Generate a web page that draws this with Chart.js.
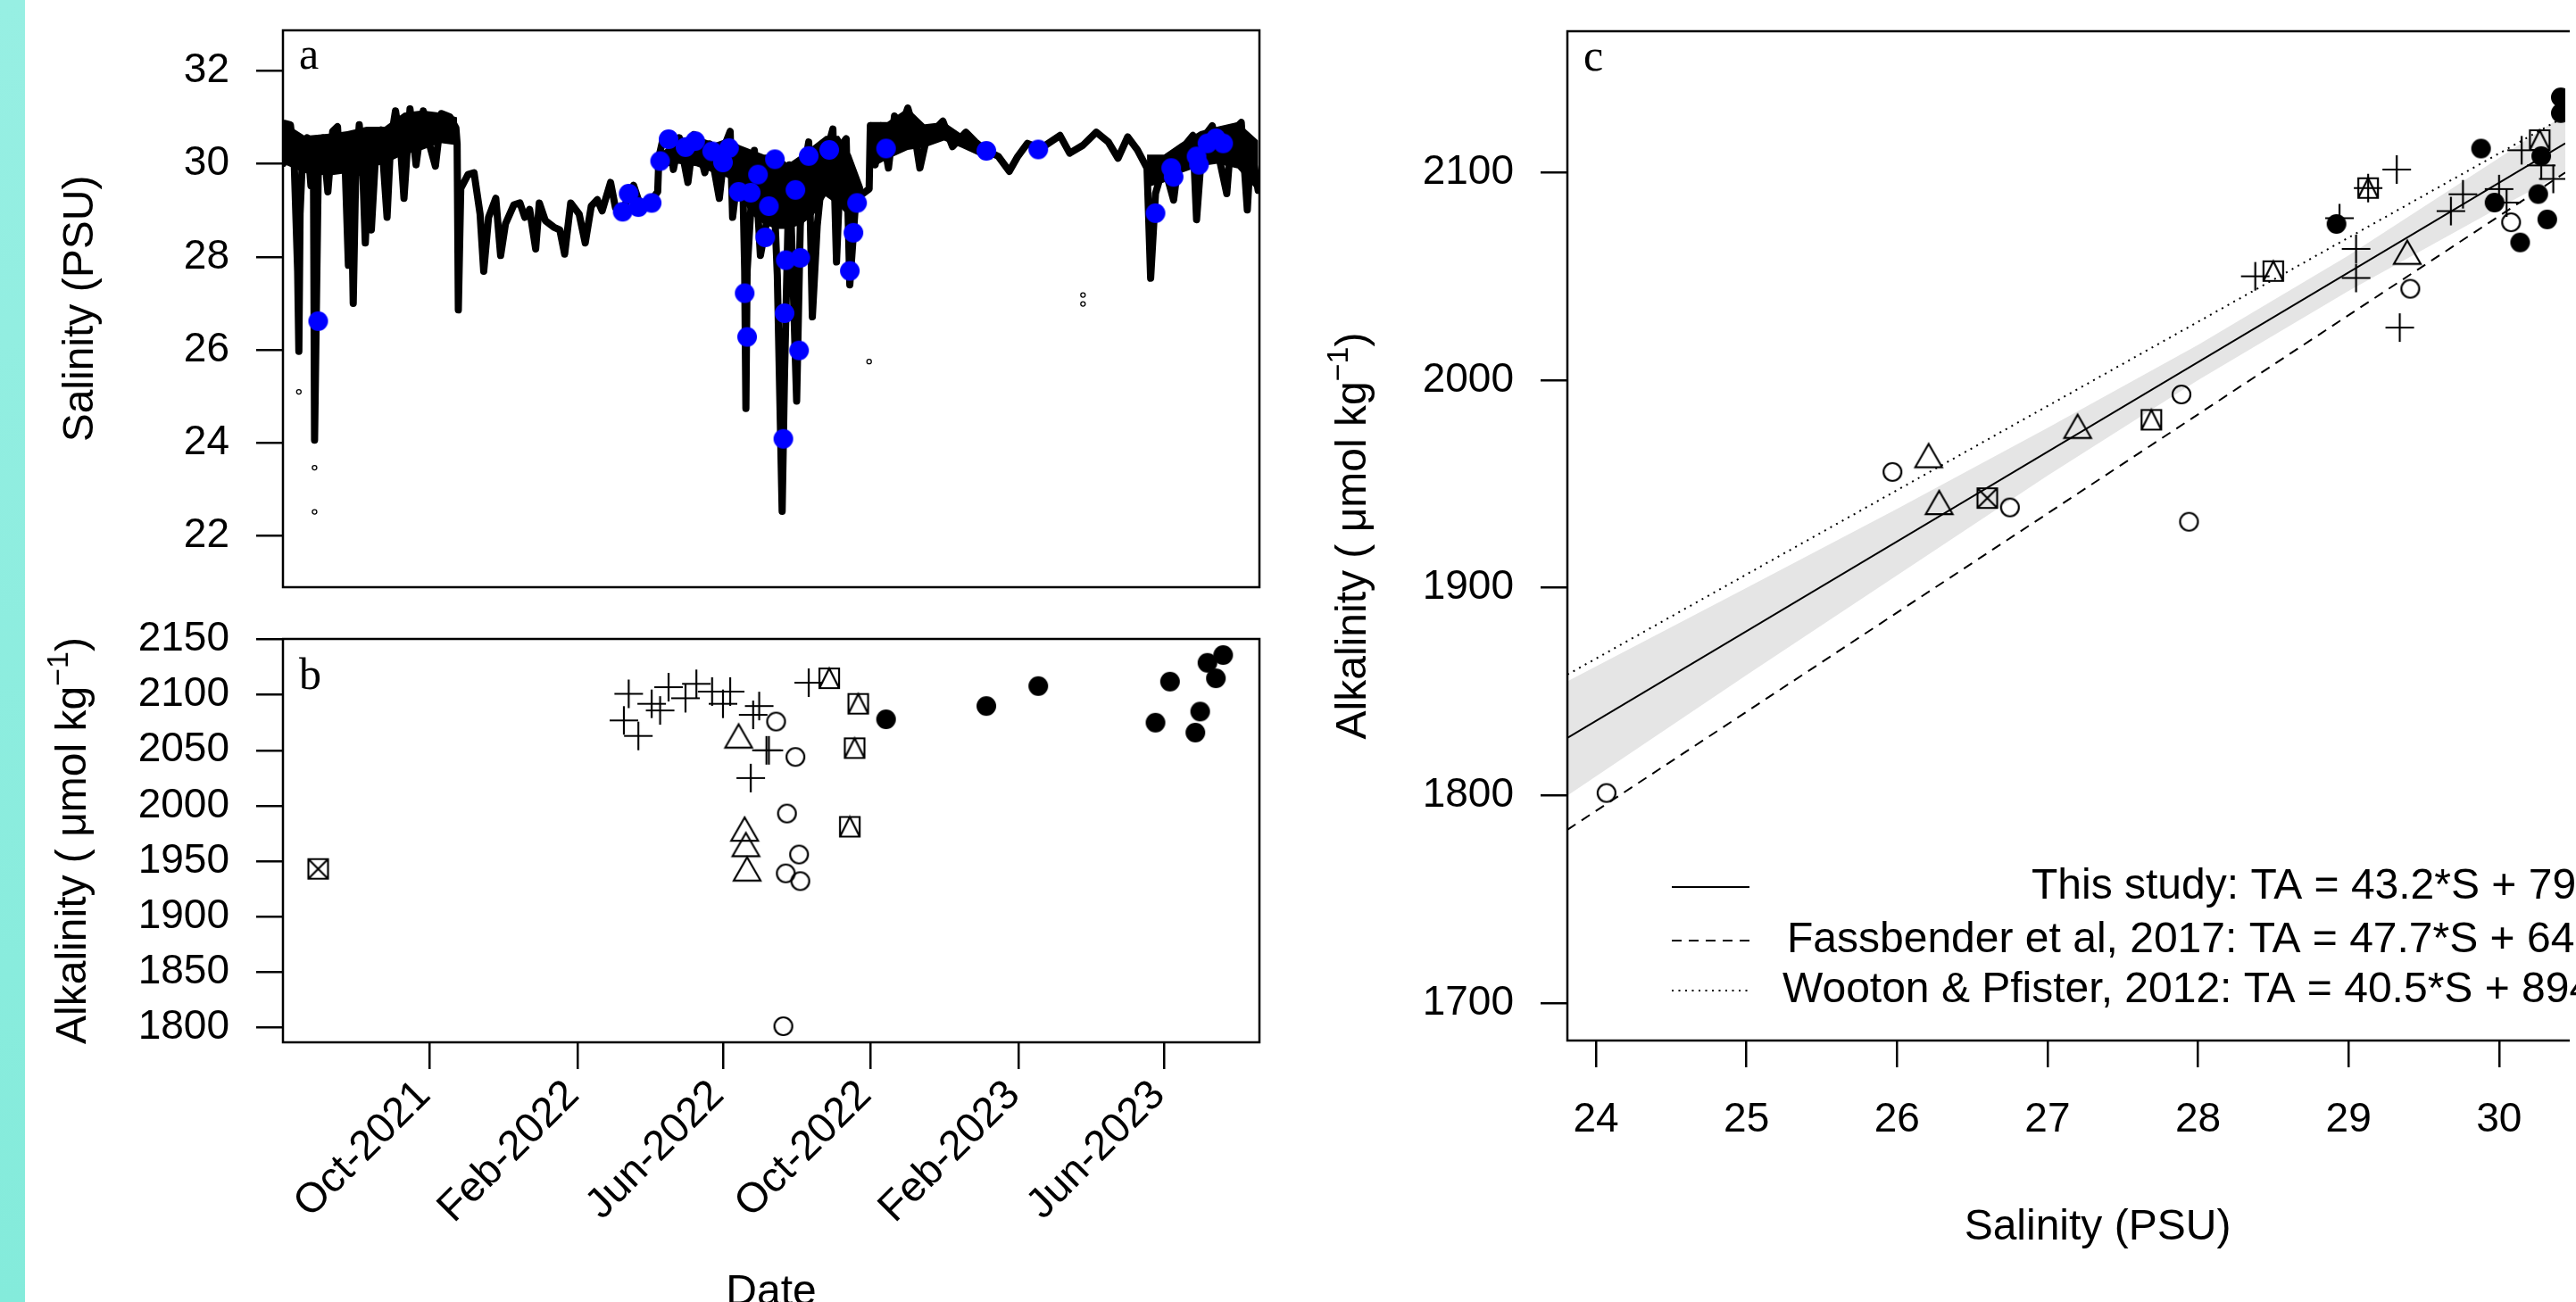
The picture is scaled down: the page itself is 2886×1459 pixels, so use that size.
<!DOCTYPE html>
<html>
<head>
<meta charset="utf-8">
<script src="https://cdn.jsdelivr.net/npm/chart.js@4.4.0/dist/chart.umd.min.js"></script>
<style>
  html, body { margin: 0; padding: 0; background: #fff; overflow: hidden; }
  body { width: 2886px; height: 1459px; position: relative; }
  #strip { position: absolute; left: 0; top: 0; width: 28px; height: 1459px; background: linear-gradient(#97efe3, #84ebdb); }
  canvas { position: absolute; }
</style>
</head>
<body>
<div id="strip"></div>
<canvas id="chartA" width="1400" height="690" style="left:28px;top:0px"></canvas>
<canvas id="chartB" width="1400" height="769" style="left:28px;top:690px"></canvas>
<canvas id="chartC" width="1446" height="1459" style="left:1440px;top:0px"></canvas>
<script>
// ---------- panel a : continuous sensor salinity ----------
const sensorDates = [
  '2021-06-02','2021-06-03','2021-06-08','2021-06-11','2021-06-14','2021-06-15','2021-06-16','2021-06-18',
  '2021-06-22','2021-06-25','2021-06-27','2021-06-28','2021-07-01','2021-07-05','2021-07-09','2021-07-13',
  '2021-07-17','2021-07-19','2021-07-23','2021-07-26','2021-07-28','2021-07-30','2021-08-01','2021-08-04',
  '2021-08-07','2021-08-09','2021-08-12','2021-08-14','2021-08-18','2021-08-22','2021-08-27','2021-08-30',
  '2021-09-03','2021-09-07','2021-09-10','2021-09-15','2021-09-20','2021-09-26','2021-10-01','2021-10-06',
  '2021-10-11','2021-10-18','2021-10-23','2021-10-24','2021-10-25',
  '2021-10-27','2021-11-02','2021-11-07','2021-11-12','2021-11-15','2021-11-19','2021-11-25','2021-11-29',
  '2021-12-03','2021-12-10','2021-12-15','2021-12-19','2021-12-23','2021-12-28','2021-12-31','2022-01-05',
  '2022-01-12','2022-01-17','2022-01-21','2022-01-26','2022-02-02','2022-02-07','2022-02-12','2022-02-17',
  '2022-02-21','2022-02-28','2022-03-04','2022-03-11','2022-03-19','2022-03-26','2022-04-02','2022-04-08',
  '2022-04-09','2022-04-12','2022-04-17','2022-04-21','2022-04-26','2022-05-03','2022-05-08','2022-05-13',
  '2022-05-17','2022-05-21','2022-05-29','2022-06-03','2022-06-07','2022-06-09','2022-06-13','2022-06-17',
  '2022-06-19','2022-06-20','2022-06-21','2022-06-27','2022-07-02','2022-07-08','2022-07-12','2022-07-16',
  '2022-07-20','2022-07-22','2022-07-26','2022-07-29','2022-08-01','2022-08-04','2022-08-07','2022-08-11',
  '2022-08-14','2022-08-18','2022-08-23','2022-08-31','2022-09-03','2022-09-07','2022-09-11','2022-09-14',
  '2022-09-19','2022-09-30',
  '2022-10-01','2022-10-05','2022-10-10','2022-10-16','2022-10-21','2022-10-26','2022-11-01','2022-11-06',
  '2022-11-11','2022-11-17','2022-11-24','2022-11-30','2022-12-08','2022-12-19','2022-12-27','2023-01-04',
  '2023-01-15','2023-01-24','2023-01-31','2023-02-08','2023-02-19','2023-02-27','2023-03-07','2023-03-15',
  '2023-03-26','2023-04-06','2023-04-16','2023-04-24','2023-05-02','2023-05-10','2023-05-18','2023-05-21',
  '2023-05-25','2023-06-01','2023-06-09','2023-06-14','2023-06-25','2023-06-28','2023-07-03','2023-07-11',
  '2023-07-23','2023-07-27','2023-08-04','2023-08-09','2023-08-12','2023-08-18'
];
const sensorSalinity = [
  30.01,30.87,30.84,30.15,27.69,25.97,28.92,30.15,
  30.56,29.53,30.43,24.06,29.74,30.56,29.40,30.70,
  30.80,29.88,30.22,27.82,30.08,27.00,29.74,30.84,
  29.74,28.30,30.15,28.58,30.43,30.73,28.85,30.49,
  31.14,30.43,29.26,31.18,29.98,31.14,30.43,29.95,
  31.08,31.01,30.77,30.43,26.86,
  29.47,29.77,29.81,28.92,27.69,28.85,29.26,28.03,
  28.71,29.12,29.16,28.85,29.02,28.17,29.16,28.78,
  28.64,28.58,28.06,29.16,28.92,28.30,29.09,29.23,
  28.99,29.60,29.06,29.06,29.54,28.99,29.19,29.40,
  30.15,30.49,30.63,29.88,30.56,29.60,30.63,30.22,
  29.81,30.43,29.26,30.43,30.70,28.85,29.74,30.15,
  27.69,24.74,27.69,30.29,28.03,28.87,30.12,27.61,
  22.53,25.52,29.98,27.47,24.90,28.66,29.84,30.47,
  26.71,28.66,29.98,30.75,27.89,30.40,30.54,27.40,
  29.25,29.46,
  30.82,29.98,30.82,29.91,31.03,30.75,31.20,30.75,
  29.91,30.61,30.75,30.92,30.37,30.68,30.47,30.30,
  30.16,29.84,30.16,30.44,30.33,30.47,30.61,30.23,
  30.40,30.68,30.47,30.12,30.58,30.30,29.91,27.54,
  29.36,29.98,29.22,30.26,30.61,28.80,30.54,30.82,
  29.36,30.68,30.89,29.01,30.40,29.43
];
// dense tidal band of the record: upper and lower edge
const denseDates1 = ['2021-06-02','2021-06-20','2021-07-10','2021-07-25','2021-08-10','2021-08-25','2021-09-10','2021-09-25','2021-10-10','2021-10-24'];
const denseHigh1 = [30.9, 30.6, 30.65, 30.7, 30.8, 30.8, 31.1, 31.15, 31.1, 31.0];
const denseLow1 = [30.0, 29.8, 29.75, 29.8, 29.9, 30.0, 30.2, 30.3, 30.45, 30.4];
const denseDates2 = ['2022-04-09','2022-04-25','2022-05-10','2022-05-25','2022-06-05','2022-06-15','2022-06-25','2022-07-05',
  '2022-07-15','2022-07-25','2022-08-05','2022-08-15','2022-08-25','2022-09-05','2022-09-15','2022-09-25'];
const denseHigh2 = [30.2, 30.55, 30.6, 30.45, 30.55, 30.4, 30.3, 30.2, 30.2, 30.0, 30.2, 30.4, 30.6, 30.6, 30.2, 29.5];
const denseLow2 = [29.9, 30.0, 29.95, 29.8, 29.7, 29.3, 28.9, 28.7, 28.6, 28.6, 28.7, 28.9, 29.3, 29.1, 28.8, 29.1];
const denseDates3 = ['2022-10-01','2022-10-15','2022-11-01','2022-11-15','2022-12-01','2022-12-15','2023-01-01','2023-01-10'];
const denseHigh3 = [30.9, 30.9, 31.2, 30.85, 30.9, 30.65, 30.45, 30.3];
const denseLow3 = [29.9, 30.1, 30.3, 30.35, 30.5, 30.35, 30.15, 30.1];
const denseDates4 = ['2023-05-18','2023-06-01','2023-06-15','2023-07-01','2023-07-15','2023-08-01','2023-08-18'];
const denseHigh4 = [30.2, 30.2, 30.45, 30.7, 30.8, 30.9, 30.5];
const denseLow4 = [29.5, 29.6, 29.8, 29.95, 30.0, 29.9, 29.4];

const outlierDates = ['2021-06-15','2021-06-28','2021-06-28','2022-09-30','2023-03-26','2023-03-26'];
const outlierSalinity = [25.10, 23.47, 22.52, 25.75, 27.18, 26.99];

// discrete sampling days, salinity at sampling (blue)
const sampleDatesA = [
  '2021-07-01','2022-03-10','2022-03-15','2022-03-23','2022-04-03','2022-04-10','2022-04-17','2022-05-01',
  '2022-05-09','2022-05-23','2022-06-01','2022-06-06','2022-06-14','2022-06-19','2022-06-21','2022-06-24',
  '2022-06-30','2022-07-06','2022-07-09','2022-07-14','2022-07-21','2022-07-22','2022-07-23','2022-07-31',
  '2022-08-03','2022-08-04','2022-08-11','2022-08-28','2022-09-14','2022-09-17','2022-09-20','2022-10-14',
  '2023-01-05','2023-02-17','2023-05-25','2023-06-07','2023-06-09','2023-06-28','2023-06-30','2023-07-07',
  '2023-07-14','2023-07-20'
];
const sampleSalinityA = [
  26.62,28.97,29.36,29.07,29.16,30.06,30.53,30.36,
  30.49,30.27,30.03,30.34,29.40,27.22,26.28,29.38,
  29.77,28.42,29.09,30.10,24.09,26.79,27.93,29.44,
  25.99,27.98,30.17,30.30,27.70,28.52,29.16,30.33,
  30.28,30.31,28.94,29.91,29.72,30.16,29.98,30.44,
  30.55,30.44
];

// ---------- panel b : alkalinity by date, grouped by symbol ----------
const datesSqX = ['2021-07-01'];
const alkSqX = [1943];
const datesPlus = ['2022-03-15','2022-03-11','2022-03-23','2022-04-03','2022-04-10','2022-04-17','2022-05-01','2022-05-10',
  '2022-05-23','2022-06-01','2022-06-07','2022-07-01','2022-06-26','2022-07-07','2022-07-09','2022-06-24','2022-08-11'];
const alkPlus = [2101,2077,2063,2092,2086,2107,2097,2110,2103,2092,2103,2090,2082,2050,2050,2025,2111];
const datesTri = ['2022-06-14','2022-06-19','2022-06-20','2022-06-21'];
const alkTri = [2063,1979,1965,1943];
const datesCircle = ['2022-07-15','2022-07-31','2022-07-24','2022-08-03','2022-07-23','2022-08-04','2022-07-21'];
const alkCircle = [2076,2044,1993,1956,1939,1932,1801];
const datesSqTri = ['2022-08-28','2022-09-21','2022-09-18','2022-09-14'];
const alkSqTri = [2115,2092,2052,1981];
const datesDisc = ['2022-10-14','2023-01-05','2023-02-17','2023-05-25','2023-06-06','2023-06-27','2023-07-01','2023-07-07','2023-07-14','2023-07-20'];
const alkDisc = [2078,2090,2108,2075,2112,2066,2085,2129,2115,2136];

// ---------- panel c : alkalinity vs salinity ----------
const salCircleC = [25.97,26.75,27.89,27.94,29.41,30.08,24.07];
const alkCircleC = [1955.8,1938.7,1993.1,1931.8,2044,2076,1801.2];
const salTriC = [26.21,26.28,27.2,29.39];
const alkTriC = [1963.7,1941.1,1977.8,2061.6];
const salSqXC = [26.6];
const alkSqXC = [1943.2];
const salSqTriC = [27.69,28.5,29.13,30.27];
const alkSqTriC = [1980.9,2052.5,2092.5,2115.6];
const salPlusC = [28.38,28.94,29.13,29.32,29.05,29.05,29.34,29.68,29.76,30.0,30.05,30.15,30.28,30.36];
const alkPlusC = [2050,2078,2092.5,2101.4,2063.2,2049.2,2025.3,2081.4,2089.5,2092,2085.5,2110.7,2103.4,2096.9];
const salDiscC = [28.92,29.88,29.97,30.14,30.28,30.26,30.32,30.41,30.41];
const alkDiscC = [2075.2,2111.5,2085.5,2066.3,2107.9,2089.6,2077.4,2136.2,2128.6];

// regression lines (end values read at the plot edges) and confidence band
const lineSal = [23.81, 30.44];
const studyAlk = [1827.7, 2114];
const fassAlk = [1783.5, 2100];
const wootonAlk = [1858.2, 2127];
const bandSal = [23.81, 25, 26, 27, 28, 29, 30, 30.44];
const bandLow = [1800, 1858, 1906, 1954, 2000, 2043, 2083, 2100];
const bandHigh = [1855, 1900, 1938, 1977, 2017, 2060, 2107, 2128];
const legendLabels = ['This study: TA = 43.2*S + 799', 'Fassbender et al, 2017: TA = 47.7*S + 647', 'Wooton & Pfister, 2012: TA = 40.5*S + 894'];

// ---------- axes ----------
const dateMin = '2021-06-01T20:00:00Z';
const dateMax = '2023-08-19T01:00:00Z';
const dateTicks = ['2021-10-01','2022-02-01','2022-06-01','2022-10-01','2023-02-01','2023-06-01'];
const dateTickLabels = ['Oct-2021','Feb-2022','Jun-2022','Oct-2022','Feb-2023','Jun-2023'];
const salTicksA = [22, 24, 26, 28, 30, 32];
const alkTicksB = [1800, 1850, 1900, 1950, 2000, 2050, 2100, 2150];
const salTicksC = [24, 25, 26, 27, 28, 29, 30];
const alkTicksC = [1700, 1800, 1900, 2000, 2100];

const ms = d => Date.parse(d);
const pts = (xs, ys, fx) => xs.map((x, i) => ({ x: fx ? fx(x) : x, y: ys[i] }));

// R-like plotting symbols drawn on small canvases
function marker(kind, size, color) {
  const pad = 3;
  const c = document.createElement('canvas');
  const w = size + pad * 2;
  c.width = w; c.height = w;
  const g = c.getContext('2d');
  g.lineWidth = 2.2;
  g.strokeStyle = color || '#000';
  g.fillStyle = color || '#000';
  const m = w / 2, r = size / 2;
  g.beginPath();
  if (kind === 'plus') {
    g.moveTo(m - r, m); g.lineTo(m + r, m); g.moveTo(m, m - r); g.lineTo(m, m + r); g.stroke();
  } else if (kind === 'circle') {
    g.arc(m, m, r - 1, 0, 2 * Math.PI); g.stroke();
  } else if (kind === 'disc') {
    g.arc(m, m, r, 0, 2 * Math.PI); g.fill();
  } else if (kind === 'triangle') {
    const h = size * 0.87;
    g.moveTo(m, m - h / 2); g.lineTo(m + r, m + h / 2); g.lineTo(m - r, m + h / 2); g.closePath(); g.stroke();
  } else if (kind === 'sqx') {
    g.rect(m - r, m - r, size, size);
    g.moveTo(m - r, m - r); g.lineTo(m + r, m + r); g.moveTo(m + r, m - r); g.lineTo(m - r, m + r); g.stroke();
  } else if (kind === 'sqtri') {
    g.rect(m - r, m - r, size, size);
    g.moveTo(m - r, m + r); g.lineTo(m, m - r); g.lineTo(m + r, m + r); g.stroke();
  }
  return c;
}
const mk = {
  plus: marker('plus', 32), circle: marker('circle', 22), disc: marker('disc', 22),
  triangle: marker('triangle', 30), sqx: marker('sqx', 22), sqtri: marker('sqtri', 22),
  blue: marker('disc', 22, '#0000ff')
};

Chart.defaults.font.family = 'Liberation Sans';
Chart.defaults.color = '#000';
const FONT = '"Liberation Sans"';

function noPad(s) { s.paddingTop = 0; s.paddingBottom = 0; s.paddingLeft = 0; s.paddingRight = 0; }
const tickGrid = { drawOnChartArea: false, drawTicks: true, tickLength: 30, color: '#000', lineWidth: 2.5 };

function drawRich(ctx, parts, x, y, size) {
  const widths = parts.map(p => {
    ctx.font = (p.sup ? Math.round(size * 0.7) : size) + 'px ' + FONT;
    return ctx.measureText(p.t).width;
  });
  let cx = x - widths.reduce((s, w) => s + w, 0) / 2;
  parts.forEach((p, i) => {
    ctx.font = (p.sup ? Math.round(size * 0.7) : size) + 'px ' + FONT;
    ctx.fillText(p.t, cx, p.sup ? y - size * 0.42 : y);
    cx += widths[i];
  });
}

// box, panel letter, axis titles, legend
const decor = {
  id: 'decor',
  afterDraw(chart, args, o) {
    const { ctx, chartArea: a } = chart;
    ctx.save();
    ctx.strokeStyle = '#000';
    ctx.lineWidth = 2.5;
    ctx.beginPath();
    if (o.openRight) {
      ctx.moveTo(a.right + 5, a.top); ctx.lineTo(a.left, a.top); ctx.lineTo(a.left, a.bottom); ctx.lineTo(a.right + 5, a.bottom);
    } else {
      ctx.rect(a.left, a.top, a.right - a.left, a.bottom - a.top);
    }
    ctx.stroke();

    ctx.fillStyle = '#000';
    ctx.textAlign = 'left';
    ctx.textBaseline = 'alphabetic';
    ctx.font = '50px "Liberation Serif"';
    ctx.fillText(o.letter, a.left + 18, a.top + o.letterDy);

    ctx.save();
    ctx.translate(a.left + o.yTitleDx, (a.top + a.bottom) / 2);
    ctx.rotate(-Math.PI / 2);
    drawRich(ctx, o.yTitle, 0, 0, 48);
    ctx.restore();

    if (o.xTitle) {
      ctx.font = '48px ' + FONT;
      ctx.textAlign = 'center';
      ctx.fillText(o.xTitle, o.xTitleX, o.xTitleY);
    }

    if (o.legend) {
      const dashes = [[], [11, 8], [2, 5.5]];
      o.legend.forEach((lg, i) => {
        ctx.lineWidth = 2;
        ctx.setLineDash(dashes[i]);
        ctx.beginPath();
        ctx.moveTo(433, lg.y); ctx.lineTo(520, lg.y);
        ctx.stroke();
        ctx.setLineDash([]);
        ctx.font = '48px ' + FONT;
        ctx.textAlign = 'left';
        ctx.textBaseline = 'middle';
        ctx.fillText(lg.text, lg.x, lg.y);
      });
    }
    ctx.restore();
  }
};

const common = {
  responsive: false,
  animation: false,
  devicePixelRatio: 1,
  events: []
};

// filled black band between two edges of the dense record
function denseBand(dates, low, high) {
  return [
    { data: pts(dates, low, ms), showLine: true, borderWidth: 0, pointRadius: 0, fill: false, order: 4 },
    { data: pts(dates, high, ms), showLine: true, borderWidth: 0, pointRadius: 0, fill: '-1', backgroundColor: '#000', order: 3 }
  ];
}

// ---- panel a ----
new Chart(document.getElementById('chartA'), {
  type: 'scatter',
  data: {
    datasets: [
      { data: pts(sampleDatesA, sampleSalinityA, ms), pointStyle: mk.blue, pointRadius: 11, order: 0 },
      { data: pts(outlierDates, outlierSalinity, ms), pointStyle: 'circle', pointRadius: 2.5, pointBorderWidth: 1.3,
        pointBorderColor: '#000', pointBackgroundColor: 'rgba(0,0,0,0)', order: 1 },
      { data: pts(sensorDates, sensorSalinity, ms), showLine: true, borderColor: '#000', borderWidth: 8,
        borderJoinStyle: 'round', borderCapStyle: 'round', pointRadius: 0, order: 2 },
      ...denseBand(denseDates1, denseLow1, denseHigh1),
      ...denseBand(denseDates2, denseLow2, denseHigh2),
      ...denseBand(denseDates3, denseLow3, denseHigh3),
      ...denseBand(denseDates4, denseLow4, denseHigh4)
    ]
  },
  options: Object.assign({}, common, {
    layout: { padding: { top: 34, right: 17, bottom: 32, left: 0 } },
    plugins: {
      legend: { display: false }, tooltip: { enabled: false },
      decor: { letter: 'a', letterDy: 43, yTitleDx: -213, yTitle: [{ t: 'Salinity (PSU)' }] }
    },
    scales: {
      x: { type: 'linear', display: false, min: ms(dateMin), max: ms(dateMax) },
      y: {
        type: 'linear', min: 20.9, max: 32.87,
        afterBuildTicks: s => { s.ticks = salTicksA.map(v => ({ value: v })); },
        afterFit: s => { s.width = 289; noPad(s); },
        grid: tickGrid, border: { display: false },
        ticks: { font: { size: 46 }, padding: 30, callback: v => String(v) }
      }
    }
  }),
  plugins: [decor]
});

// ---- panel b ----
new Chart(document.getElementById('chartB'), {
  type: 'scatter',
  data: {
    datasets: [
      { data: pts(datesSqX, alkSqX, ms), pointStyle: mk.sqx, pointRadius: 11 },
      { data: pts(datesPlus, alkPlus, ms), pointStyle: mk.plus, pointRadius: 11 },
      { data: pts(datesTri, alkTri, ms), pointStyle: mk.triangle, pointRadius: 11 },
      { data: pts(datesCircle, alkCircle, ms), pointStyle: mk.circle, pointRadius: 11 },
      { data: pts(datesSqTri, alkSqTri, ms), pointStyle: mk.sqtri, pointRadius: 11 },
      { data: pts(datesDisc, alkDisc, ms), pointStyle: mk.disc, pointRadius: 11 }
    ]
  },
  options: Object.assign({}, common, {
    layout: { padding: { top: 26, right: 17, bottom: 0, left: 0 } },
    plugins: {
      legend: { display: false }, tooltip: { enabled: false },
      decor: {
        letter: 'b', letterDy: 56, yTitleDx: -221,
        yTitle: [{ t: 'Alkalinity ( \u03bcmol kg' }, { t: '\u22121', sup: true }, { t: ')' }],
        xTitle: 'Date', xTitleX: 836, xTitleY: 772
      }
    },
    scales: {
      x: {
        type: 'linear', min: ms(dateMin), max: ms(dateMax),
        afterBuildTicks: s => { s.ticks = dateTicks.map(d => ({ value: ms(d) })); },
        afterFit: s => { s.height = 291; noPad(s); },
        grid: tickGrid, border: { display: false },
        ticks: { font: { size: 47 }, padding: 2, labelOffset: -6, minRotation: 45, maxRotation: 45, autoSkip: false,
          callback: (v, i) => dateTickLabels[i] }
      },
      y: {
        type: 'linear', min: 1786.5, max: 2150.5,
        afterBuildTicks: s => { s.ticks = alkTicksB.map(v => ({ value: v })); },
        afterFit: s => { s.width = 289; noPad(s); },
        grid: tickGrid, border: { display: false },
        ticks: { font: { size: 46 }, padding: 30, callback: v => String(v) }
      }
    }
  }),
  plugins: [decor]
});

// ---- panel c ----
new Chart(document.getElementById('chartC'), {
  type: 'scatter',
  data: {
    datasets: [
      { data: pts(bandSal, bandLow), showLine: true, borderWidth: 0, pointRadius: 0, fill: false, order: 10 },
      { data: pts(bandSal, bandHigh), showLine: true, borderWidth: 0, pointRadius: 0, fill: '-1',
        backgroundColor: '#e5e5e5', order: 9 },
      { data: pts(lineSal, studyAlk), showLine: true, borderColor: '#000', borderWidth: 2, pointRadius: 0, order: 5 },
      { data: pts(lineSal, fassAlk), showLine: true, borderColor: '#000', borderWidth: 2, borderDash: [11, 8], pointRadius: 0, order: 5 },
      { data: pts(lineSal, wootonAlk), showLine: true, borderColor: '#000', borderWidth: 2, borderDash: [2, 5.5], pointRadius: 0, order: 5 },
      { data: pts(salCircleC, alkCircleC), pointStyle: mk.circle, pointRadius: 11, order: 0 },
      { data: pts(salTriC, alkTriC), pointStyle: mk.triangle, pointRadius: 11, order: 0 },
      { data: pts(salSqXC, alkSqXC), pointStyle: mk.sqx, pointRadius: 11, order: 0 },
      { data: pts(salSqTriC, alkSqTriC), pointStyle: mk.sqtri, pointRadius: 11, order: 0 },
      { data: pts(salPlusC, alkPlusC), pointStyle: mk.plus, pointRadius: 11, order: 0 },
      { data: pts(salDiscC, alkDiscC), pointStyle: mk.disc, pointRadius: 11, order: 0 }
    ]
  },
  options: Object.assign({}, common, {
    layout: { padding: { top: 35, right: 0, bottom: 0, left: 0 } },
    plugins: {
      legend: { display: false }, tooltip: { enabled: false },
      decor: {
        letter: 'c', letterDy: 44, yTitleDx: -226, openRight: true,
        yTitle: [{ t: 'Alkalinity ( \u03bcmol kg' }, { t: '\u22121', sup: true }, { t: ')' }],
        xTitle: 'Salinity (PSU)', xTitleX: 910, xTitleY: 1389,
        legend: [
          { text: legendLabels[0], x: 836, y: 994 },
          { text: legendLabels[1], x: 562, y: 1054 },
          { text: legendLabels[2], x: 557, y: 1110 }
        ]
      }
    },
    scales: {
      x: {
        type: 'linear', min: 23.81, max: 30.44,
        afterBuildTicks: s => { s.ticks = salTicksC.map(v => ({ value: v })); },
        afterFit: s => { s.height = 293; noPad(s); },
        grid: tickGrid, border: { display: false },
        ticks: { font: { size: 46 }, padding: 32, maxRotation: 0, autoSkip: false, callback: v => String(v) }
      },
      y: {
        type: 'linear', min: 1682, max: 2168,
        afterBuildTicks: s => { s.ticks = alkTicksC.map(v => ({ value: v })); },
        afterFit: s => { s.width = 316; noPad(s); },
        grid: tickGrid, border: { display: false },
        ticks: { font: { size: 46 }, padding: 30, callback: v => String(v) }
      }
    }
  }),
  plugins: [decor]
});
</script>
</body>
</html>
